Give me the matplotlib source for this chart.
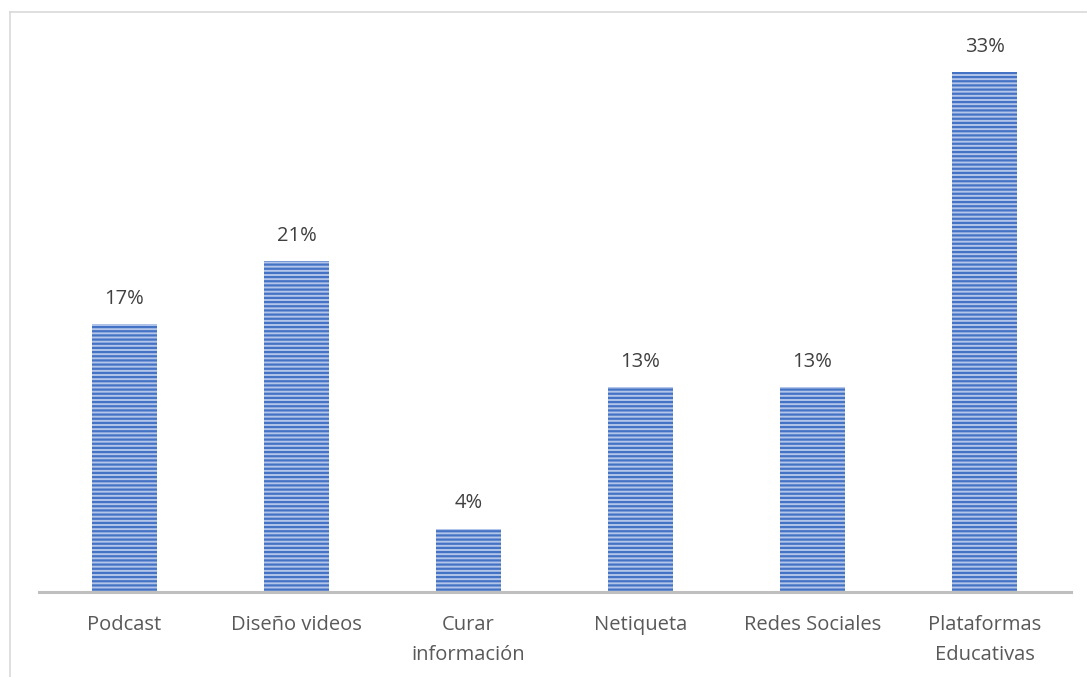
import matplotlib
matplotlib.use("Agg")
import matplotlib.pyplot as plt
from matplotlib.lines import Line2D

categories = ["Podcast", "Diseño videos", "Curar\ninformación", "Netiqueta",
              "Redes Sociales", "Plataformas\nEducativas"]
values = [17, 21, 4, 13, 13, 33]
value_labels = ["17%", "21%", "4%", "13%", "13%", "33%"]

plt.rcParams["font.family"] = ["Open Sans", "DejaVu Sans"]
plt.rcParams["hatch.linewidth"] = 1.6
plt.rcParams["hatch.color"] = "#4472C4"

W, H = 1087, 677
fig = plt.figure(figsize=(W / 100, H / 100), dpi=100)
fig.patch.set_facecolor("white")

# chart-area frame
fig.add_artist(Line2D([10 / W, 10 / W], [0, 1 - 12 / H], color="#d9d9d9", lw=1.2))
fig.add_artist(Line2D([10 / W, 1], [1 - 12 / H, 1 - 12 / H], color="#d9d9d9", lw=1.2))

ax = fig.add_axes([38.5 / W, 85 / H, (1070.5 - 38.5) / W, (592 - 25) / H])
x = range(len(categories))
ax.bar(x, values, width=0.378, color="#b3c6ea", edgecolor="#4472C4",
       linewidth=0, hatch="----", zorder=2)

for xi, v, lab in zip(x, values, value_labels):
    ax.annotate(lab, (xi, v), xytext=(0, 18.5), textcoords="offset points",
                ha="center", va="center", fontsize=14.5, color="#404040")

ax.set_xlim(-0.5, len(categories) - 0.5)
ax.set_ylim(0, 36)
ax.set_xticks(list(x))
ax.set_xticklabels(categories, fontsize=14.5, color="#595959", linespacing=1.7)
ax.tick_params(axis="x", length=0, pad=16.5)
ax.set_yticks([])
for s in ["top", "right", "left"]:
    ax.spines[s].set_visible(False)
ax.spines["bottom"].set_color("#bfbfbf")
ax.spines["bottom"].set_linewidth(2.2)
ax.spines["bottom"].set_zorder(3)

fig.savefig("out.png", dpi=100)
